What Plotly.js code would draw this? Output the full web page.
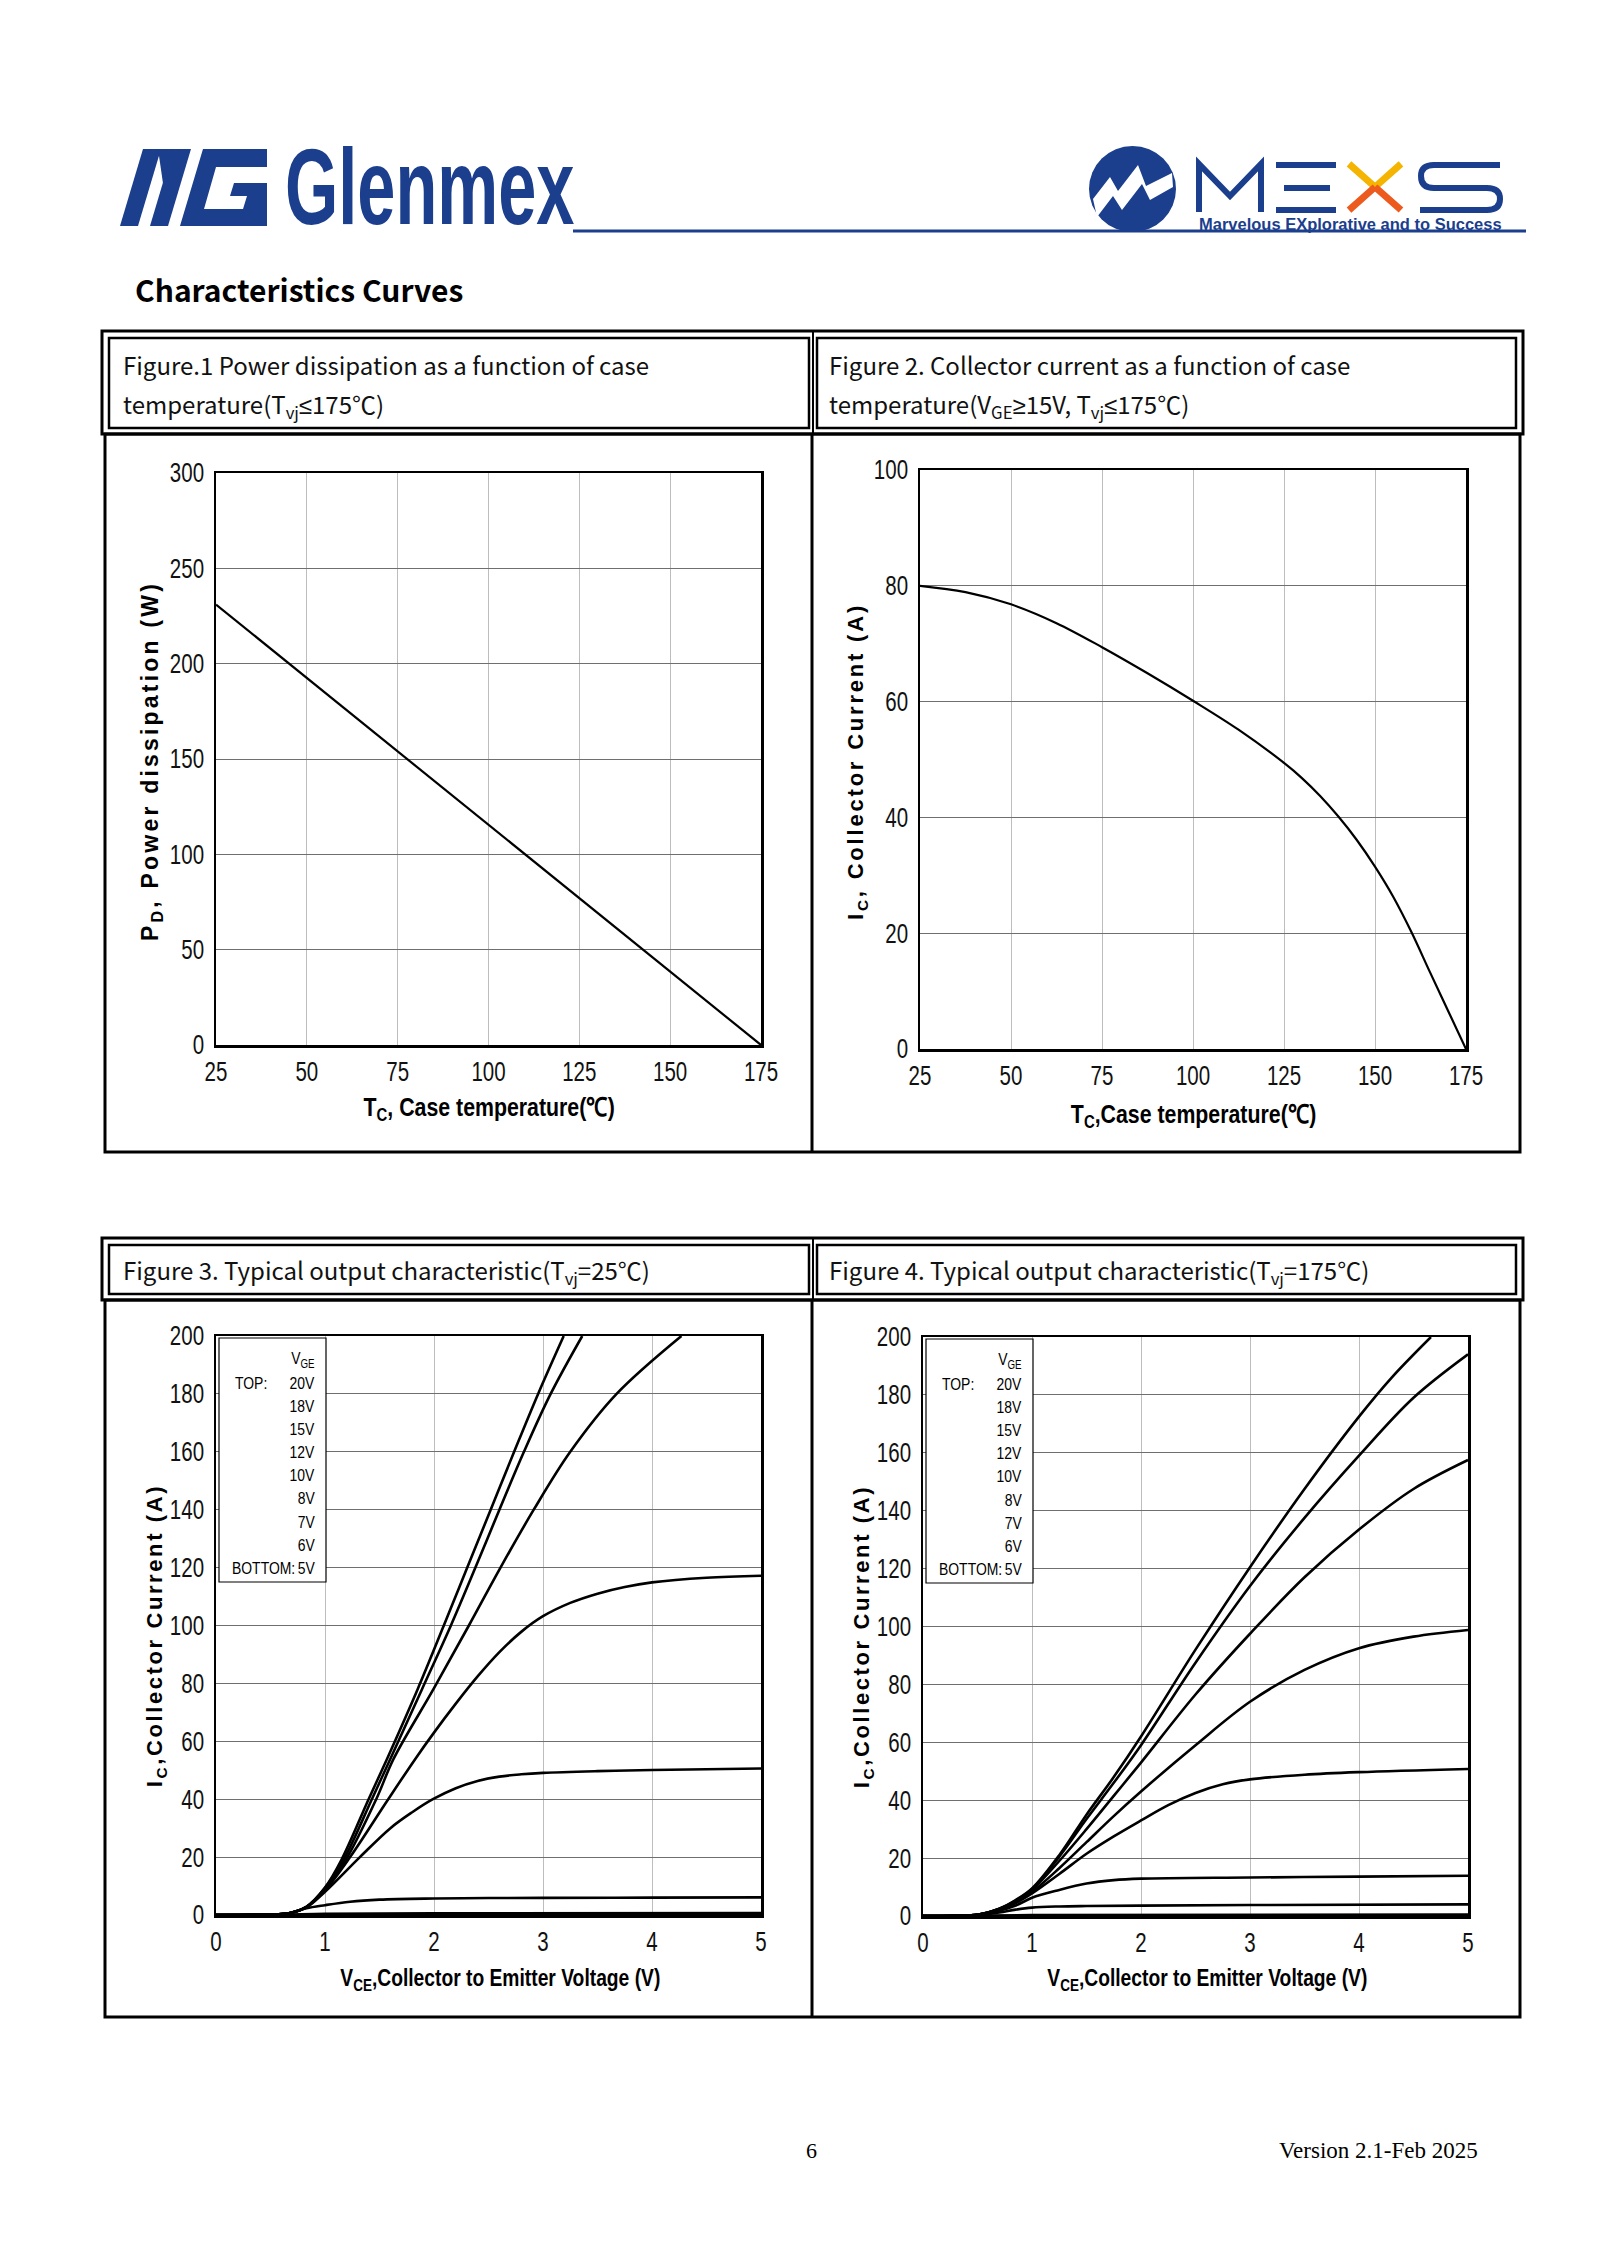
<!DOCTYPE html>
<html><head><meta charset="utf-8">
<script src="https://cdn.plot.ly/plotly-3.0.1.min.js"></script>
<style>
html,body{margin:0;padding:0;background:#fff;overflow:hidden}
#page{width:1600px;height:2262px}
</style>
</head><body><div id="page"></div>
<script>
// ---------------- DATA ----------------
// Figure 1: power dissipation vs case temperature
const fig1TempC = [25, 175];
const fig1PowerW = [231, 0];

// Figure 2: collector current vs case temperature
const fig2TempC = [25, 37.5, 50, 62.5, 75, 87.5, 100, 112.5, 125, 130, 135, 140, 145, 150, 155, 160, 165, 170, 175];
const fig2CurrentA = [80, 78.9, 76.8, 73.55, 69.4, 64.9, 60.15, 55.15, 49.4, 46.75, 43.65, 40.1, 36.1, 31.5, 26.3, 20.2, 13.4, 6.7, 0];

// Gate voltages (legend order)
const vgeLabels = ['20V', '18V', '15V', '12V', '10V', '8V', '7V', '6V', '5V'];

// Figure 3: output characteristic, Tvj = 25 C
const t25_20V_vce = [0, 0.4, 0.6, 0.7, 0.83, 1.0, 1.15, 1.4, 1.57, 1.85, 2.09, 2.305, 2.52, 2.735, 2.955, 3.19];
const t25_20V_ic  = [0, 0.1, 0.3, 0.9, 2.8, 9.5, 19, 40, 54, 78, 100, 120, 140, 160, 180, 200];
const t25_18V_vce = [0, 0.4, 0.6, 0.7, 0.83, 1.0, 1.17, 1.43, 1.6, 1.89, 2.155, 2.38, 2.6, 2.825, 3.07, 3.36];
const t25_18V_ic  = [0, 0.1, 0.3, 0.9, 2.8, 9.3, 19, 40, 54, 78, 100, 120, 140, 160, 180, 200];
const t25_15V_vce = [0, 0.4, 0.6, 0.7, 0.83, 1.0, 1.19, 1.47, 1.63, 1.995, 2.32, 2.61, 2.915, 3.25, 3.675, 4.27];
const t25_15V_ic  = [0, 0.1, 0.3, 0.9, 2.8, 9, 19, 40, 54, 78, 100, 120, 140, 160, 180, 200];
const t25_12V_vce = [0, 0.4, 0.6, 0.7, 0.83, 1.0, 1.23, 1.58, 1.83, 2.0, 2.2, 2.4, 2.6, 2.8, 3.0, 3.25, 3.5, 3.75, 4.0, 4.5, 5.0];
const t25_12V_ic  = [0, 0.1, 0.3, 0.9, 2.7, 8.5, 20, 40, 54, 63, 73, 82.4, 90.8, 97.8, 103.2, 107.8, 111, 113.3, 114.9, 116.5, 117.2];
const t25_10V_vce = [0, 0.4, 0.6, 0.7, 0.83, 1.0, 1.32, 1.6, 1.8, 1.99, 2.2, 2.4, 2.6, 2.8, 3.0, 3.5, 4.0, 5.0];
const t25_10V_ic  = [0, 0.1, 0.3, 0.9, 2.6, 8, 20, 30, 35.5, 40, 43.8, 46.3, 47.8, 48.6, 49.1, 49.7, 50.1, 50.6];
const t25_8V_vce  = [0, 0.4, 0.6, 0.7, 0.83, 1.0, 1.23, 1.5, 2.0, 2.5, 3.0, 4.0, 5.0];
const t25_8V_ic   = [0, 0.1, 0.3, 0.8, 2.3, 3.4, 4.6, 5.3, 5.7, 5.85, 5.9, 6.0, 6.1];
const t25_7V_vce  = [0, 0.6, 1.0, 2.0, 5.0];
const t25_7V_ic   = [0, 0.1, 0.4, 0.55, 0.7];
const t25_6V_vce  = [0, 0.6, 1.0, 5.0];
const t25_6V_ic   = [0, 0.05, 0.15, 0.25];
const t25_5V_vce  = [0, 5.0];
const t25_5V_ic   = [0, 0];

// Figure 4: output characteristic, Tvj = 175 C
const t175_20V_vce = [0, 0.3, 0.5, 0.7, 0.85, 1.0, 1.25, 1.5, 1.75, 2.0, 2.5, 3.0, 3.5, 4.0, 4.3, 4.66];
const t175_20V_ic  = [0, 0.1, 0.4, 2.5, 5.5, 9.5, 21, 35, 48, 62, 92, 120.5, 147.5, 172.5, 186, 200];
const t175_18V_vce = [0, 0.3, 0.5, 0.7, 0.85, 1.0, 1.25, 1.5, 1.75, 2.0, 2.5, 3.0, 3.5, 4.0, 4.5, 5.0];
const t175_18V_ic  = [0, 0.1, 0.4, 2.5, 5.3, 9.3, 20.5, 33.5, 46, 59, 87.5, 114, 137.5, 159, 179, 194];
const t175_15V_vce = [0, 0.3, 0.5, 0.7, 0.85, 1.0, 1.25, 1.5, 1.75, 2.0, 2.5, 3.0, 3.5, 4.0, 4.5, 5.0];
const t175_15V_ic  = [0, 0.1, 0.4, 2.4, 5, 9, 19, 30, 41.5, 53, 76.5, 97.5, 117, 133.5, 147.5, 157.5];
const t175_12V_vce = [0, 0.3, 0.5, 0.7, 0.85, 1.0, 1.25, 1.5, 1.75, 2.0, 2.5, 3.0, 3.5, 4.0, 4.5, 5.0];
const t175_12V_ic  = [0, 0.1, 0.4, 2.3, 4.7, 8.3, 16.5, 25.5, 34.5, 43, 59, 74, 85, 92.5, 96.5, 98.8];
const t175_10V_vce = [0, 0.3, 0.5, 0.7, 0.85, 1.0, 1.25, 1.5, 1.75, 2.0, 2.25, 2.5, 2.75, 3.0, 3.5, 4.0, 5.0];
const t175_10V_ic  = [0, 0.1, 0.4, 2.2, 4.5, 7.8, 14.5, 21.5, 27.5, 33, 38.3, 42.5, 45.5, 47.2, 48.8, 49.7, 50.8];
const t175_8V_vce  = [0, 0.3, 0.5, 0.7, 0.85, 1.0, 1.25, 1.5, 1.75, 2.0, 3.0, 4.0, 5.0];
const t175_8V_ic   = [0, 0.1, 0.4, 1.8, 3.6, 6.3, 9, 11.2, 12.4, 12.9, 13.3, 13.6, 13.9];
const t175_7V_vce  = [0, 0.3, 0.5, 0.7, 0.85, 1.0, 1.25, 1.5, 2.0, 3.0, 5.0];
const t175_7V_ic   = [0, 0.1, 0.3, 1.2, 2.2, 2.9, 3.3, 3.45, 3.6, 3.8, 4.0];
const t175_6V_vce  = [0, 0.5, 1.0, 5.0];
const t175_6V_ic   = [0, 0.1, 0.3, 0.5];
const t175_5V_vce  = [0, 5.0];
const t175_5V_ic   = [0, 0];

// ---------------- LAYOUT HELPERS ----------------
const W = 1600, H = 2262;
const X = p => p / W;
const Y = p => 1 - p / H;
const SANS = '"Liberation Sans", Arial, sans-serif';
const CJK = '"Noto Sans CJK SC", "Noto Sans", sans-serif';
const SERIF = '"Liberation Serif", "Times New Roman", serif';
const BLUE = '#1b3e8d';
const NX = 0.82;   // horizontal squeeze giving a narrow face
const TICKX = 0.76;

const box1 = {l: 216, r: 761, t: 473, b: 1045};
const box2 = {l: 920, r: 1466, t: 470, b: 1049};
const box3 = {l: 216, r: 761, t: 1336, b: 1915};
const box4 = {l: 923, r: 1468, t: 1337, b: 1916};

const shapes = [];
const annotations = [];
const squeezeList = [];
const spaced = [];
function conv(path) {
  return path.replace(/(-?\d+\.?\d*),(-?\d+\.?\d*)/g, (m, a, b) => X(+a).toFixed(5) + ',' + Y(+b).toFixed(5));
}
function pathShape(p, fill, lineColor, lw) {
  shapes.push({type: 'path', xref: 'paper', yref: 'paper', path: conv(p), fillcolor: fill || 'rgba(0,0,0,0)',
    line: {color: lineColor || 'rgba(0,0,0,0)', width: lw || 0}, layer: 'above'});
}
function rect(x0, y0, x1, y1, lw, fill) {
  shapes.push({type: 'rect', xref: 'paper', yref: 'paper', x0: X(x0), x1: X(x1), y0: Y(y1), y1: Y(y0),
    line: {color: '#000', width: lw}, fillcolor: fill || 'rgba(0,0,0,0)', layer: 'above'});
}
function line(x0, y0, x1, y1, lw, color) {
  shapes.push({type: 'line', xref: 'paper', yref: 'paper', x0: X(x0), x1: X(x1), y0: Y(y0), y1: Y(y1),
    line: {color: color || '#000', width: lw}, layer: 'above'});
}
function text(t, x, y, o) {
  o = o || {};
  const xa = o.xa || 'center';
  annotations.push({text: t, x: X(x), y: Y(y), xref: 'paper', yref: 'paper', showarrow: false,
    xanchor: xa, yanchor: o.ya || 'middle', textangle: o.angle || 0, align: xa,
    font: {family: o.family || SANS, size: o.size || 16, color: o.color || '#000'}});
  const i = annotations.length - 1;
  if (o.sx || o.sy) squeezeList.push([i, o.sx || 1, o.sy || 1]);
  if (o.ls) spaced.push([i, o.ls]);
  return i;
}
const LE = '<span style="font-family:\'Liberation Sans\'">≤</span>';
const GE = '<span style="font-family:\'Liberation Sans\'">≥</span>';

// ---------------- PAGE HEADER ----------------
pathShape('M120,226 L143,149 L161,149 L138,226 Z', BLUE);
pathShape('M158,149 L176,149 L166,204 Z', BLUE);
pathShape('M150,226 L173,149 L191,149 L168,226 Z', BLUE);
pathShape('M180,226 L203,149 L267,149 L267,167 L216,167 L204,209 L243,209 L247,196 L230,196 L234,183 L267,183 L267,226 Z', BLUE);
text('<b>Glenmex</b>', 283, 189, {xa: 'left', size: 100, color: BLUE, sx: 0.685, sy: 1.07});
line(573, 231, 1526, 231, 3, BLUE);
shapes.push({type: 'circle', xref: 'paper', yref: 'paper', x0: X(1089), x1: X(1176), y0: Y(232), y1: Y(146),
  fillcolor: BLUE, line: {width: 0}, layer: 'above'});
pathShape('M1093,199 L1110,177 L1118,191 L1138,165 L1146,186 L1172,173 L1173,187 L1150,200 L1142,184 L1122,210 L1113,196 L1097,217 Z', '#ffffff');
pathShape('M1199,212 L1199,164 L1230,196 L1261,164 L1261,212', null, BLUE, 6);
pathShape('M1276,165 L1336,165 M1284,188 L1330,188 M1276,210 L1336,210', null, BLUE, 6);
pathShape('M1349,164 L1375,187 M1401,164 L1375,187', null, '#f4b400', 7);
pathShape('M1375,187 L1349,210 M1375,187 L1401,210', null, '#ec5a1e', 7);
pathShape('M1500,165 L1434,165 Q1421,165 1421,176 Q1421,188 1434,188 L1487,188 Q1500,188 1500,199 Q1500,210 1487,210 L1420,210', null, BLUE, 6);
text('<b>Marvelous EXplorative and to Success</b>', 1197, 224, {xa: 'left', size: 16.5, color: BLUE});

text('<b>Characteristics Curves</b>', 133, 289, {xa: 'left', size: 30, family: CJK, color: '#000'});

// ---------------- TABLE FRAMES ----------------
function tableFrame(top, hdrBottom, bottom) {
  rect(102, top, 1523, hdrBottom, 3);
  rect(109, top + 7, 809, hdrBottom - 6, 2.5);
  rect(817, top + 7, 1516, hdrBottom - 6, 2.5);
  line(813, top, 813, hdrBottom, 2);
  rect(105, hdrBottom, 1520, bottom, 3);
  line(812, hdrBottom, 812, bottom, 3);
}
tableFrame(331, 434, 1152);
tableFrame(1238, 1300, 2017);

const HF = {xa: 'left', size: 24, family: CJK, color: '#111'};
text('Figure.1 Power dissipation as a function of case', 121, 364, HF);
text('temperature(T<sub>vj</sub>' + LE + '175℃)', 121, 405, HF);
text('Figure 2. Collector current as a function of case', 827, 364, HF);
text('temperature(V<sub>GE</sub>' + GE + '15V, T<sub>vj</sub>' + LE + '175℃)', 827, 405, HF);
text('Figure 3. Typical output characteristic(T<sub>vj</sub>=25℃)', 121, 1271, HF);
text('Figure 4. Typical output characteristic(T<sub>vj</sub>=175℃)', 827, 1271, HF);

// ---------------- AXIS TITLES ----------------
text('<b>T<sub>C</sub>, Case temperature(℃)</b>', 489, 1109, {size: 26, sx: NX});
text('<b>T<sub>C</sub>,Case temperature(℃)</b>', 1193, 1115, {size: 26, sx: NX});
text('<b>V<sub>CE</sub>,Collector to Emitter Voltage (V)</b>', 500, 1979, {size: 23.5, sx: NX});
text('<b>V<sub>CE</sub>,Collector to Emitter Voltage (V)</b>', 1207, 1979, {size: 23.5, sx: NX});
text('<b>P<sub>D</sub>, Power dissipation (W)</b>', 151, 761, {angle: -90, size: 23, ls: 3.2});
text('<b>I<sub>C</sub>, Collector Current (A)</b>', 857, 762, {angle: -90, size: 22, ls: 2.8});
text('<b>I<sub>C</sub>,Collector Current (A)</b>', 156, 1636, {angle: -90, size: 22, ls: 2.6});
text('<b>I<sub>C</sub>,Collector Current (A)</b>', 863, 1637, {angle: -90, size: 22, ls: 2.6});

// ---------------- VGE LEGEND BOXES ----------------
function vgeBox(b) {
  rect(b.l + 3, b.t + 2, b.l + 110, b.t + 246, 1.2, '#ffffff');
  text('V<sub>GE</sub>', b.l + 101, b.t + 24, {xa: 'right', size: 17, sx: NX});
  vgeLabels.forEach((v, i) => text(v, b.l + 101, b.t + 47 + i * 23.2, {xa: 'right', size: 17, sx: NX}));
  text('TOP:', b.l + 17, b.t + 47, {xa: 'left', size: 17, sx: NX});
  text('BOTTOM:', b.l + 14, b.t + 47 + 8 * 23.2, {xa: 'left', size: 17, sx: NX});
}
vgeBox(box3);
vgeBox(box4);

// ---------------- FOOTER ----------------
text('6', 811, 2150, {size: 22, family: SERIF});
text('Version 2.1-Feb 2025', 1277, 2150, {xa: 'left', size: 23, family: SERIF});

// ---------------- AXES ----------------
function axis(dom, range, dtick, anchor, grid, isX) {
  return {domain: dom, range: range, dtick: dtick, tick0: range[0], anchor: anchor,
    showgrid: true, gridcolor: grid, gridwidth: 1, zeroline: false,
    showline: true, mirror: true, linecolor: '#000', linewidth: 2.5,
    ticks: '', ticklabelstandoff: isX ? 1 : 4,
    tickfont: {family: SANS, size: 27, color: '#111'}, fixedrange: true};
}
const GX = '#bdbdbd', GY = '#6f6f6f';
const layout = {
  width: W, height: H, margin: {l: 0, r: 0, t: 0, b: 0}, paper_bgcolor: '#fff', plot_bgcolor: '#fff',
  showlegend: false, hovermode: false,
  xaxis:  axis([X(box1.l), X(box1.r)], [25, 175], 25, 'y', GX, true),
  yaxis:  axis([Y(box1.b), Y(box1.t)], [0, 300], 50, 'x', GY, false),
  xaxis2: axis([X(box2.l), X(box2.r)], [25, 175], 25, 'y2', GX, true),
  yaxis2: axis([Y(box2.b), Y(box2.t)], [0, 100], 20, 'x2', GY, false),
  xaxis3: axis([X(box3.l), X(box3.r)], [0, 5], 1, 'y3', GX, true),
  yaxis3: axis([Y(box3.b), Y(box3.t)], [0, 200], 20, 'x3', GY, false),
  xaxis4: axis([X(box4.l), X(box4.r)], [0, 5], 1, 'y4', GX, true),
  yaxis4: axis([Y(box4.b), Y(box4.t)], [0, 200], 20, 'x4', GY, false),
  shapes: shapes, annotations: annotations
};

// ---------------- TRACES ----------------
const traces = [];
traces.push({x: fig1TempC, y: fig1PowerW, xaxis: 'x', yaxis: 'y', mode: 'lines', line: {color: '#000', width: 2.2}});
traces.push({x: fig2TempC, y: fig2CurrentA, xaxis: 'x2', yaxis: 'y2', mode: 'lines',
  line: {color: '#000', width: 2.2, shape: 'spline', smoothing: 1}});
const fig3 = [[t25_20V_vce, t25_20V_ic], [t25_18V_vce, t25_18V_ic], [t25_15V_vce, t25_15V_ic], [t25_12V_vce, t25_12V_ic],
  [t25_10V_vce, t25_10V_ic], [t25_8V_vce, t25_8V_ic], [t25_7V_vce, t25_7V_ic], [t25_6V_vce, t25_6V_ic], [t25_5V_vce, t25_5V_ic]];
const fig4 = [[t175_20V_vce, t175_20V_ic], [t175_18V_vce, t175_18V_ic], [t175_15V_vce, t175_15V_ic], [t175_12V_vce, t175_12V_ic],
  [t175_10V_vce, t175_10V_ic], [t175_8V_vce, t175_8V_ic], [t175_7V_vce, t175_7V_ic], [t175_6V_vce, t175_6V_ic], [t175_5V_vce, t175_5V_ic]];
fig3.forEach((c, i) => traces.push({x: c[0], y: c[1], xaxis: 'x3', yaxis: 'y3', mode: 'lines', name: vgeLabels[i],
  line: {color: '#000', width: 2.6, shape: 'spline', smoothing: 1}}));
fig4.forEach((c, i) => traces.push({x: c[0], y: c[1], xaxis: 'x4', yaxis: 'y4', mode: 'lines', name: vgeLabels[i],
  line: {color: '#000', width: 2.6, shape: 'spline', smoothing: 1}}));

// letter spacing for the rotated y titles
let css = '';
spaced.forEach(([i, ls]) => { css += `.annotation[data-index="${i}"] text{letter-spacing:${ls}px}\n`; });
const st = document.createElement('style'); st.textContent = css; document.head.appendChild(st);

function squeeze(el, sx, sy) {
  const t = el.getAttribute('transform') || '';
  if (t.indexOf('scale(') >= 0) return;
  const x0 = parseFloat(el.getAttribute('x')) || 0;
  const y0 = parseFloat(el.getAttribute('y')) || 0;
  el.setAttribute('transform', `${t} translate(${x0},${y0}) scale(${sx},${sy}) translate(${-x0},${-y0})`);
}
function narrowAll(gd) {
  const set = new Set();
  gd.querySelectorAll('g.xaxislayer-above text, g.yaxislayer-above text, g[class$="tick"] > text').forEach(el => set.add(el));
  set.forEach(el => squeeze(el, TICKX, 1));
  squeezeList.forEach(([i, sx, sy]) => {
    const el = gd.querySelector(`.annotation[data-index="${i}"] text`);
    if (el) squeeze(el, sx, sy);
  });
}
Plotly.newPlot('page', traces, layout, {staticPlot: true, displayModeBar: false}).then(gd => {
  narrowAll(gd);
  gd.on('plotly_afterplot', () => narrowAll(gd));
});
</script></body></html>
